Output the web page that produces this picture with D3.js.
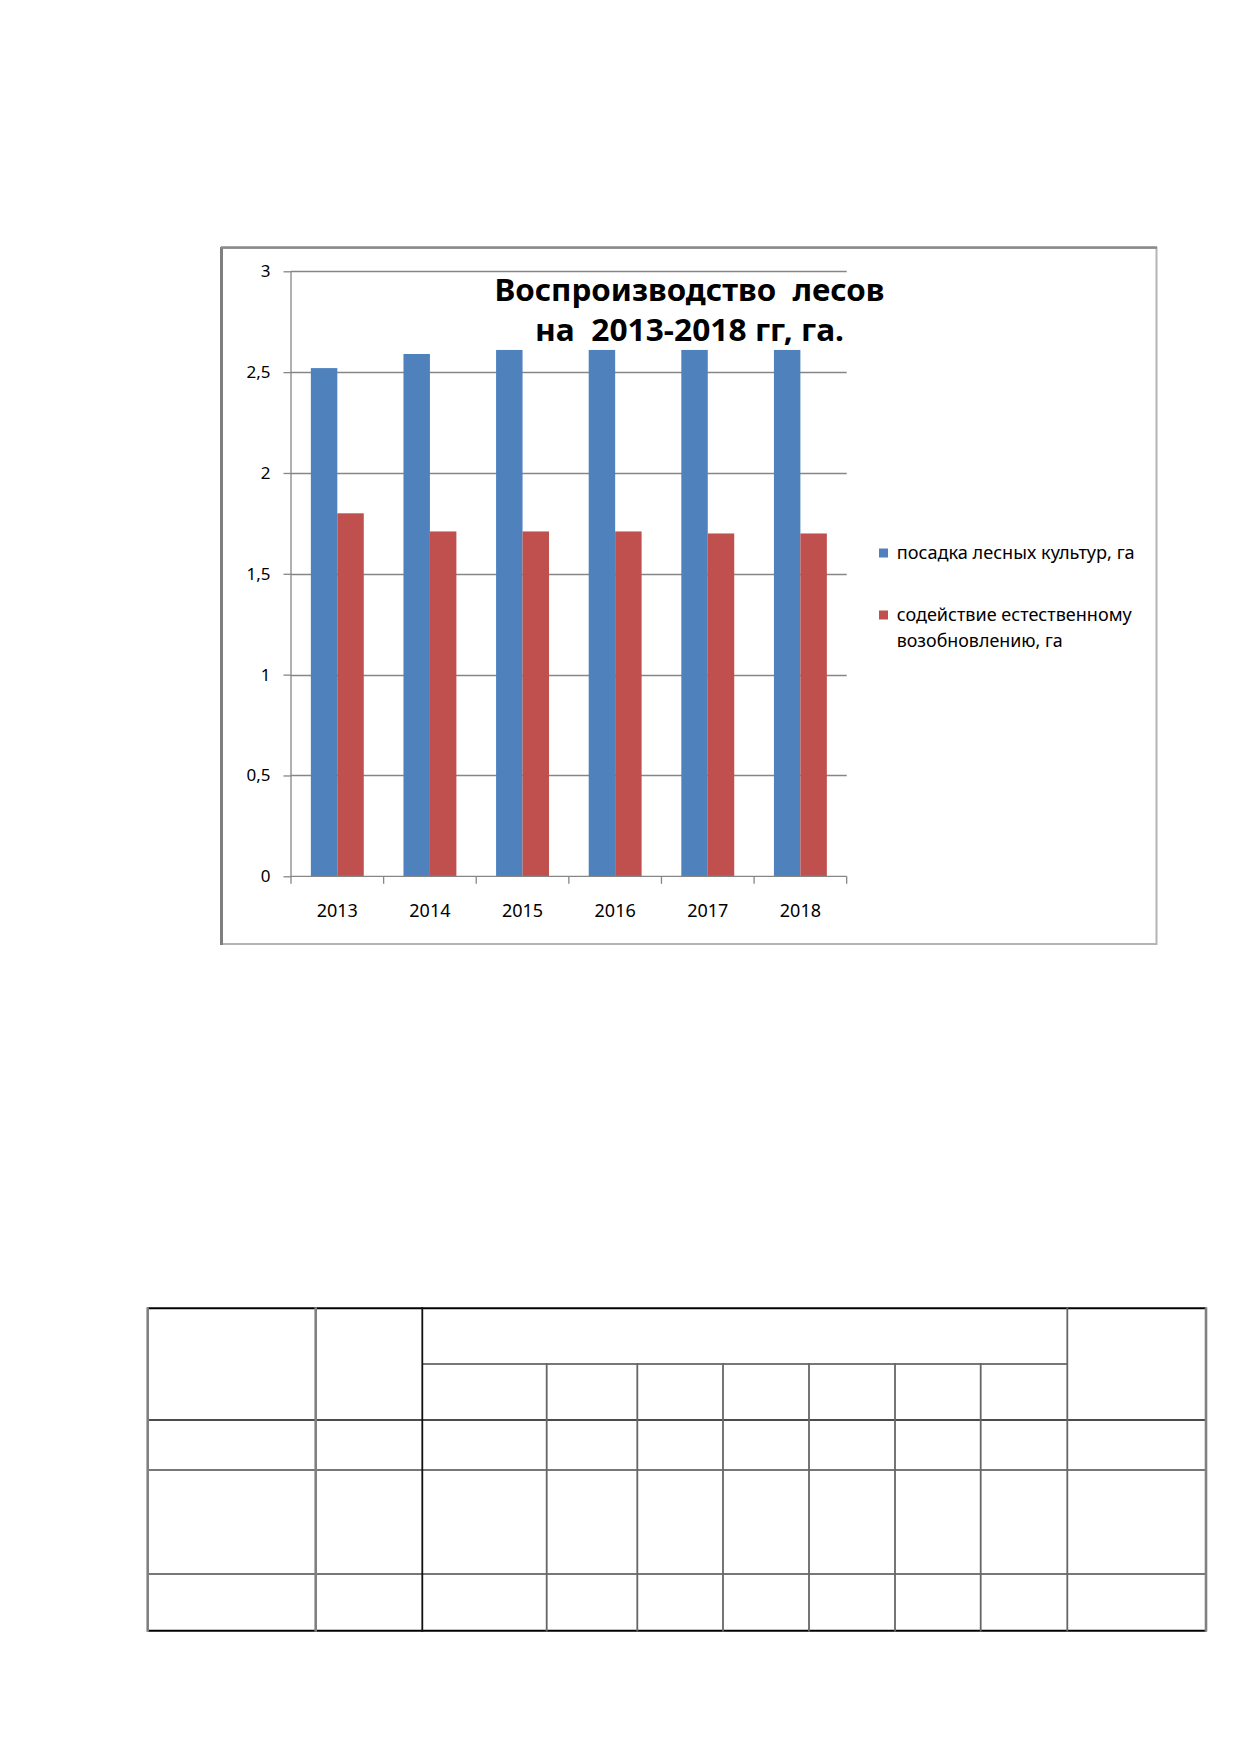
<!DOCTYPE html>
<html><head><meta charset="utf-8">
<script src="https://cdn.jsdelivr.net/npm/d3@7"></script>
<style>body{margin:0;background:#fff}svg{display:block}</style>
</head><body>
<svg id="c" width="1239" height="1752"></svg>
<script>
const years = ["2013","2014","2015","2016","2017","2018"];
const seriesNames = ["посадка лесных культур, га", "содействие естественному возобновлению, га"];
const planting = [2.52, 2.59, 2.61, 2.61, 2.61, 2.61];
const assistance = [1.80, 1.71, 1.71, 1.71, 1.70, 1.70];
const yTicks = [0, 0.5, 1, 1.5, 2, 2.5, 3];
const titleLines = ["Воспроизводство  лесов", "на  2013-2018 гг, га."];
const colors = ["#4F81BD", "#C0504D"];

const svg = d3.select("#c");
const F = "'Noto Sans', 'Open Sans', sans-serif";

// chart frame
svg.append("rect").attr("x", 222).attr("y", 248).attr("width", 934.5).attr("height", 696)
  .attr("fill", "#fff").attr("stroke", "#b4b4b4").attr("stroke-width", 2);
svg.append("line").attr("x1", 221.5).attr("x2", 221.5).attr("y1", 247).attr("y2", 945)
  .attr("stroke", "#7f7f7f").attr("stroke-width", 3);
svg.append("line").attr("x1", 221).attr("x2", 1157).attr("y1", 247.5).attr("y2", 247.5)
  .attr("stroke", "#8a8a8a").attr("stroke-width", 2.5);

const x0 = 291, x1 = 846.7, yTop = 271.3, yBot = 876.3;
const x = d3.scaleBand().domain(years).range([x0, x1]).paddingInner(0.4286).paddingOuter(0.2143);
const xs = d3.scaleBand().domain([0, 1]).range([0, x.bandwidth()]);
const y = d3.scaleLinear().domain([0, 3]).range([yBot, yTop]);

// gridlines
svg.append("g").selectAll("line").data(yTicks.filter(d => d > 0)).join("line")
  .attr("x1", x0).attr("x2", x1).attr("y1", d => Math.round(y(d)) + 0.5).attr("y2", d => Math.round(y(d)) + 0.5)
  .attr("stroke", "#868686").attr("stroke-width", 1.3);

// y axis
const yAxis = svg.append("g").attr("transform", `translate(${x0},0)`)
  .call(d3.axisLeft(y).tickValues(yTicks).tickSize(7.5).tickPadding(13)
    .tickFormat(d => String(d).replace(".", ",")));
yAxis.select(".domain").remove();
yAxis.append("line").attr("x1", 0).attr("x2", 0).attr("y1", yTop).attr("y2", yBot).attr("stroke", "#868686").attr("stroke-width", 1.3);
yAxis.selectAll(".tick line").attr("stroke", "#868686").attr("stroke-width", 1.3);
yAxis.selectAll(".tick text").attr("font-family", F).attr("font-size", 17).attr("fill", "#000");

// bars
const data = years.map((yr, i) => ({ yr, v: [planting[i], assistance[i]] }));
svg.append("g").selectAll("g").data(data).join("g")
  .attr("transform", d => `translate(${x(d.yr)},0)`)
  .selectAll("rect").data(d => d.v.map((v, k) => ({ v, k }))).join("rect")
  .attr("x", d => xs(d.k)).attr("width", xs.bandwidth())
  .attr("y", d => y(d.v)).attr("height", d => yBot - y(d.v))
  .attr("fill", d => colors[d.k]);

// x axis
const xEdge = d3.scalePoint().domain(d3.range(7)).range([x0, x1]);
const xAxisG = svg.append("g");
xAxisG.append("line").attr("x1", x0).attr("x2", x1).attr("y1", yBot).attr("y2", yBot).attr("stroke", "#868686").attr("stroke-width", 1.3);
xAxisG.selectAll(".t").data(d3.range(7)).join("line").attr("class", "t")
  .attr("x1", d => xEdge(d)).attr("x2", d => xEdge(d)).attr("y1", yBot).attr("y2", yBot + 7.5)
  .attr("stroke", "#868686").attr("stroke-width", 1.3);
xAxisG.selectAll("text").data(years).join("text")
  .attr("x", d => x(d) + x.bandwidth() / 2).attr("y", 917)
  .attr("text-anchor", "middle").attr("font-family", F).attr("font-size", 18).text(d => d);

// title
const tPos = [{ x: 494.5, y: 300.5, w: 390 }, { x: 535, y: 341, w: 309 }];
svg.append("g").selectAll("text").data(titleLines).join("text")
  .attr("x", (d, i) => tPos[i].x).attr("y", (d, i) => tPos[i].y)
  .attr("textLength", (d, i) => tPos[i].w).attr("lengthAdjust", "spacingAndGlyphs")
  .attr("font-family", F).attr("font-weight", "bold").attr("font-size", 31).attr("fill", "#000")
  .style("white-space", "pre").text(d => d);

// legend
const leg = svg.append("g");
const legLines = [
  { k: 0, lines: [seriesNames[0]], w: [238] , yc: 553},
  { k: 1, lines: ["содействие естественному", "возобновлению, га"], w: [235, 166], yc: 615 }
];
legLines.forEach(L => {
  leg.append("rect").attr("x", 879).attr("y", L.yc - 4.5).attr("width", 9).attr("height", 9).attr("fill", colors[L.k]);
  L.lines.forEach((t, j) => {
    leg.append("text").attr("x", 896.7).attr("y", L.yc + 6 + j * 25.5)
      .attr("textLength", L.w[j]).attr("lengthAdjust", "spacingAndGlyphs")
      .attr("font-family", F).attr("font-size", 17.5).attr("fill", "#000").text(t);
  });
});

// blank table below
const colX = [147.7, 315.7, 422.3, 546.7, 637.3, 723, 809, 895, 980.7, 1067.3, 1206];
const rowY = [1308.3, 1364, 1420, 1470, 1574, 1630.7];
const tb = svg.append("g").attr("fill", "none");
const hLines = [
  { y: rowY[0], a: colX[0], b: colX[10], c: "#000", w: 2 },
  { y: rowY[1], a: colX[2], b: colX[9], c: "#777", w: 2 },
  { y: rowY[2], a: colX[0], b: colX[10], c: "#111", w: 1.6 },
  { y: rowY[3], a: colX[0], b: colX[10], c: "#777", w: 2 },
  { y: rowY[4], a: colX[0], b: colX[10], c: "#777", w: 2 },
  { y: rowY[5], a: colX[0], b: colX[10], c: "#000", w: 2 }
];
tb.selectAll(".h").data(hLines).join("line").attr("class", "h")
  .attr("x1", d => d.a).attr("x2", d => d.b).attr("y1", d => d.y).attr("y2", d => d.y)
  .attr("stroke", d => d.c).attr("stroke-width", d => d.w);
const vLines = colX.map((cx, i) => ({
  x: cx, top: (i >= 3 && i <= 8) ? rowY[1] : rowY[0],
  c: (i === 0 || i === 1 || i === 10) ? "#808080" : (i === 2 ? "#111" : "#666"),
  w: (i === 0 || i === 1 || i === 10) ? 2.6 : 1.8
}));
tb.selectAll(".v").data(vLines).join("line").attr("class", "v")
  .attr("x1", d => d.x).attr("x2", d => d.x).attr("y1", d => d.top - 1).attr("y2", rowY[5] + 1)
  .attr("stroke", d => d.c).attr("stroke-width", d => d.w);
</script>
</body></html>
